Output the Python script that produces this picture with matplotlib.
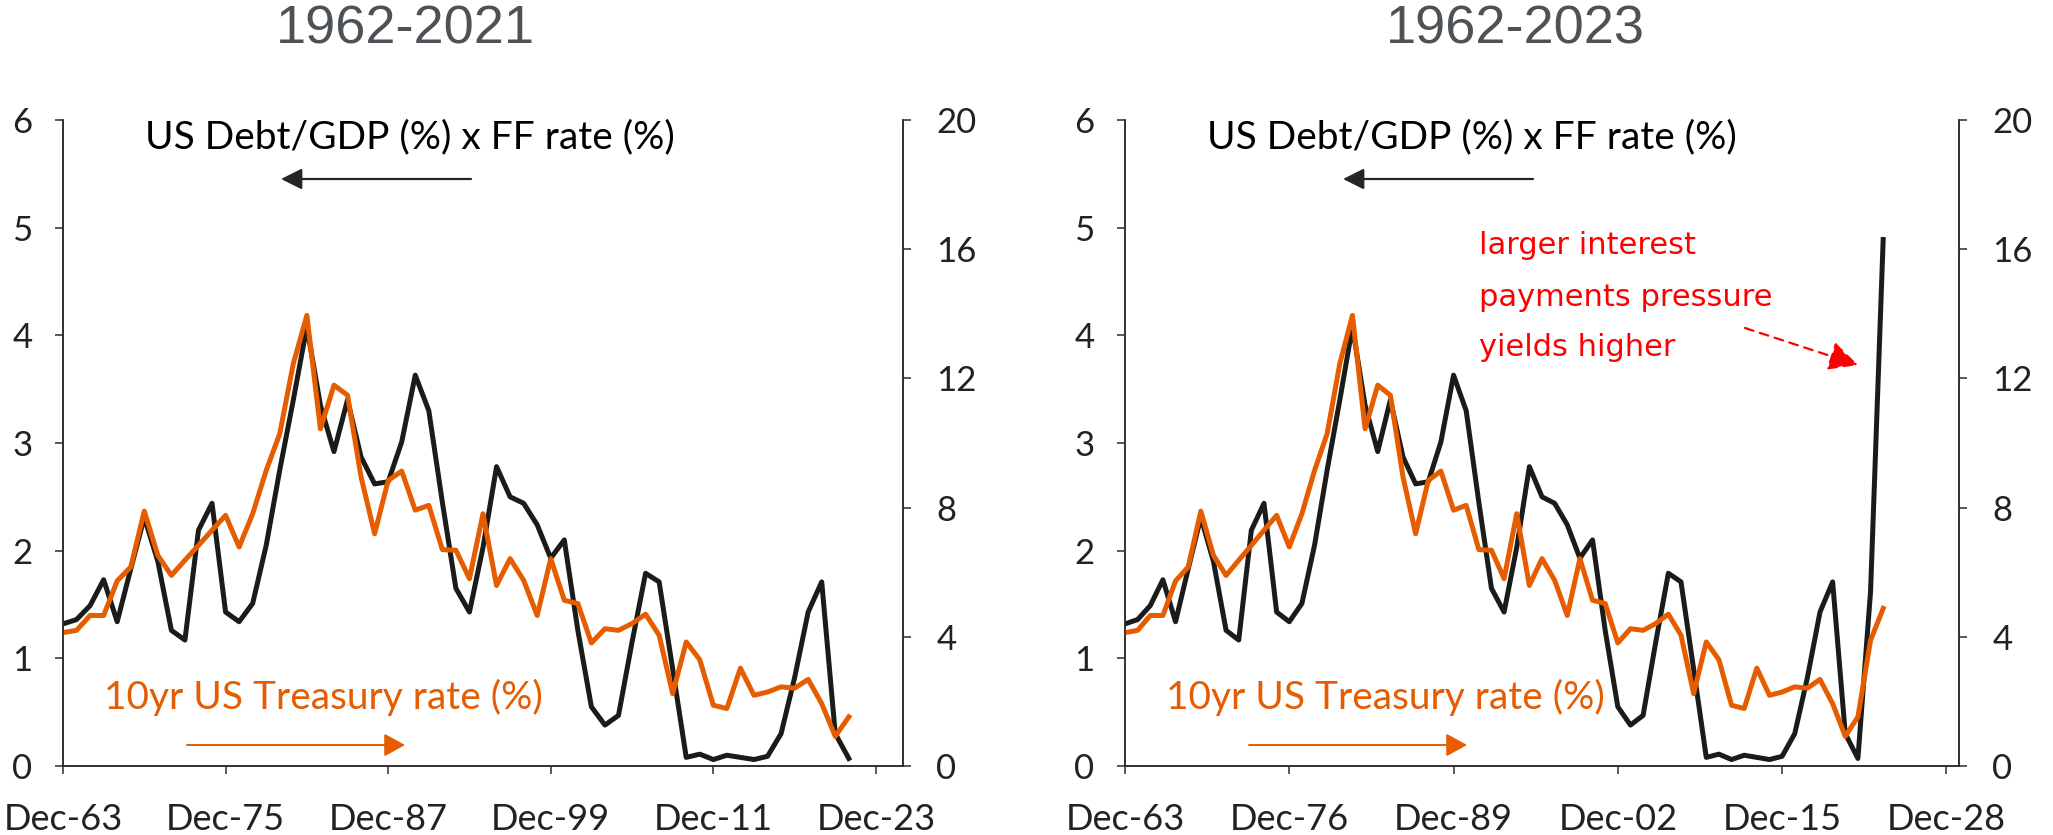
import numpy as np
import matplotlib.pyplot as plt

plt.rcParams['font.family'] = ['Lato', 'DejaVu Sans']

# annual values, Dec-63 .. Dec-23
years = list(range(1963, 2024))

# US Debt/GDP (%) x FF rate (%)  -> left axis
debt_ff = [1.32, 1.36, 1.49, 1.73, 1.34, 1.83, 2.31, 1.90, 1.26, 1.17,
           2.19, 2.44, 1.43, 1.34, 1.51, 2.05, 2.75, 3.40, 4.08, 3.35,
           2.92, 3.40, 2.87, 2.62, 2.64, 3.01, 3.63, 3.30, 2.45, 1.65,
           1.43, 2.03, 2.78, 2.50, 2.44, 2.24, 1.93, 2.10, 1.26, 0.55,
           0.38, 0.47, 1.15, 1.79, 1.71, 0.90, 0.08, 0.11, 0.06, 0.10,
           0.08, 0.06, 0.09, 0.30, 0.82, 1.43, 1.71, 0.30, 0.07, 1.62,
           4.89]

# 10yr US Treasury rate (%) -> right axis
treasury = [4.13, 4.20, 4.66, 4.66, 5.73, 6.16, 7.89, 6.52, 5.90, 6.37,
            6.83, 7.30, 7.76, 6.78, 7.81, 9.15, 10.29, 12.46, 13.95, 10.44,
            11.79, 11.48, 8.95, 7.19, 8.84, 9.13, 7.92, 8.07, 6.70, 6.68,
            5.80, 7.81, 5.59, 6.42, 5.75, 4.66, 6.42, 5.13, 5.03, 3.81,
            4.25, 4.20, 4.41, 4.70, 4.05, 2.24, 3.84, 3.29, 1.88, 1.78,
            3.03, 2.19, 2.29, 2.45, 2.41, 2.68, 1.93, 0.92, 1.52, 3.89,
            4.88]

titles = ['1962-2021', '1962-2023']
last_year = [2021, 2023]
tick_years = [[1963, 1975, 1987, 1999, 2011, 2023],
              [1963, 1976, 1989, 2002, 2015, 2028]]
tick_labels = [['Dec-63', 'Dec-75', 'Dec-87', 'Dec-99', 'Dec-11', 'Dec-23'],
               ['Dec-63', 'Dec-76', 'Dec-89', 'Dec-02', 'Dec-15', 'Dec-28']]
x_max = [2025.0, 2029.0]

W, H = 2053, 835
fig = plt.figure(figsize=(W / 100, H / 100), dpi=100)


def fp(x, y):
    # figure pixel (from top-left) -> figure fraction
    return (x / W, 1 - y / H)


BLACK = '#1a1c1c'
ORANGE = '#e65c00'
AXC = '#2b2b2b'
rects = [(63, 120, 903, 766), (1125, 120, 1959, 766)]
title_x = [405, 1515]

for k in range(2):
    l, t, r, b = rects[k]
    ax = fig.add_axes([l / W, 1 - b / H, (r - l) / W, (b - t) / H])
    n = last_year[k] - years[0] + 1
    ax.plot(years[:n], debt_ff[:n], color=BLACK, lw=3.6)
    ax.set_xlim(1963, x_max[k])
    ax.set_ylim(0, 6)
    ax.set_yticks(range(0, 7))
    ax.set_xticks(tick_years[k])
    ax.set_xticklabels(tick_labels[k])

    ax2 = ax.twinx()
    ax2.plot(years[:n], treasury[:n], color=ORANGE, lw=3.6)
    ax2.set_ylim(0, 20)
    ax2.set_yticks(range(0, 21, 4))

    for a in (ax, ax2):
        a.spines['top'].set_visible(False)
        for s in a.spines.values():
            s.set_color(AXC)
            s.set_linewidth(1.1)
        a.tick_params(colors=AXC, labelcolor='#222222', length=6, width=1.1,
                      labelsize=25, direction='out')
    ax.tick_params(axis='x', labelsize=26, pad=21)
    ax.tick_params(axis='y', pad=16)
    ax2.tick_params(axis='y', pad=18)

    fig.text(*fp(title_x[k], 30), titles[k], ha='center', va='center',
             fontsize=39, color='#4d5257', family='Liberation Sans')

    # series annotations
    fig.text(*fp(l + 82, 148), 'US Debt/GDP (%) x FF rate (%)', ha='left',
             va='baseline', fontsize=28, color='black')
    fig.text(*fp(l + 41, 709), '10yr US Treasury rate (%)', ha='left',
             va='baseline', fontsize=28, color=ORANGE)
    fig.add_artist(plt.matplotlib.patches.FancyArrowPatch(
        fp(l + 408, 179), fp(l + 218, 179), transform=fig.transFigure,
        arrowstyle='-|>,head_length=0.4,head_width=0.2', mutation_scale=32,
        color='#262626', lw=1.6, shrinkA=0, shrinkB=0))
    fig.add_artist(plt.matplotlib.patches.FancyArrowPatch(
        fp(l + 124, 745), fp(l + 342, 745), transform=fig.transFigure,
        arrowstyle='-|>,head_length=0.4,head_width=0.22', mutation_scale=32,
        color=ORANGE, lw=1.4, shrinkA=0, shrinkB=0))

    if k == 1:
        for j, line in enumerate(['larger interest', 'payments pressure',
                                  'yields higher']):
            fig.text(*fp(1479, 246 + 51 * j), line, ha='left', va='center',
                     fontsize=22, color='#ff0000', family='DejaVu Sans')
        fig.add_artist(plt.matplotlib.patches.FancyArrowPatch(
            fp(1745, 328), fp(1858, 365), transform=fig.transFigure,
            arrowstyle='-|>,head_length=0.5,head_width=0.25', mutation_scale=36,
            color='#ff0000', lw=1.6, linestyle=(0, (4, 3)),
            shrinkA=0, shrinkB=0))

fig.savefig('out.png', dpi=100)
